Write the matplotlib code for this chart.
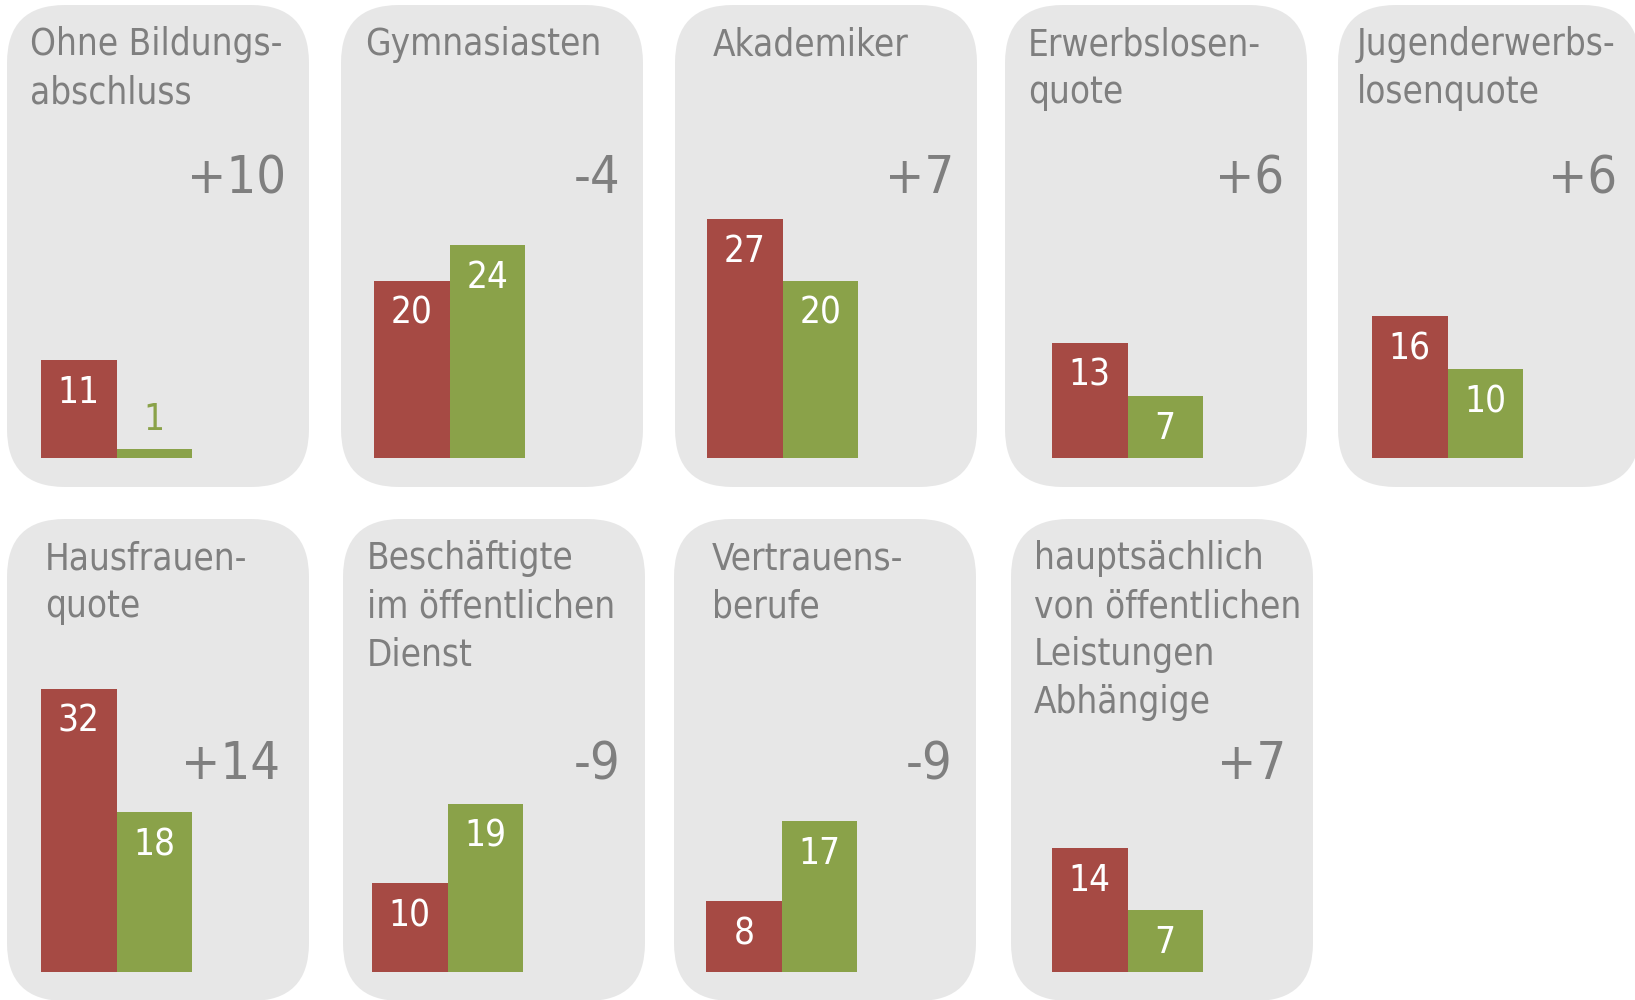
import matplotlib
matplotlib.use("Agg")
import matplotlib.pyplot as plt
from matplotlib.patches import FancyBboxPatch
from matplotlib import font_manager

# ---- data ----
titles = [
    ["Ohne Bildungs-", "abschluss"],
    ["Gymnasiasten"],
    ["Akademiker"],
    ["Erwerbslosen-", "quote"],
    ["Jugenderwerbs-", "losenquote"],
    ["Hausfrauen-", "quote"],
    ["Beschäftigte", "im öffentlichen", "Dienst"],
    ["Vertrauens-", "berufe"],
    ["hauptsächlich", "von öffentlichen", "Leistungen", "Abhängige"],
]
red_vals = [11, 20, 27, 13, 16, 32, 10, 8, 14]
green_vals = [1, 24, 20, 7, 10, 18, 19, 17, 7]

# ---- layout / style ----
W, H = 1635, 1000
panel_x = [7, 341, 675, 1005, 1338, 7, 343, 674, 1011]
panel_y = [5, 5, 5, 5, 5, 519, 519, 519, 519]
panel_w, panel_h = 302, 482
title_dx = [23, 24, 38, 23, 19, 38, 24, 38, 23]
bar_dx = [34, 33, 32, 47, 34, 34, 29, 32, 41]
diff_rx = [23, 23, 23, 23, 23, 29, 24, 23, 27]
bar_px = 75.5
px_per_unit = 8.85
base_from_top = 452.7
diff_from_top = [188, 188, 188, 188, 188, 260, 260, 260, 260]

RED = "#A64A44"
GREEN = "#8AA249"
PANEL = "#E7E7E7"
GRAY = "#7F7F7F"

names = {(f.name, f.stretch) for f in font_manager.fontManager.ttflist}
has_cond = any(n == "DejaVu Sans" and s in ("condensed", "semi-condensed") for n, s in names)
stretch = "condensed" if has_cond else "normal"
k = 1.0 if has_cond else 0.9
plt.rcParams["font.family"] = ["DejaVu Sans"]

fig = plt.figure(figsize=(W / 100, H / 100), dpi=100)
bg = fig.add_axes([0, 0, 1, 1])
bg.set_xlim(0, W)
bg.set_ylim(H, 0)
bg.axis("off")

for i in range(len(titles)):
    x0, y0 = panel_x[i], panel_y[i]
    bg.add_patch(FancyBboxPatch((x0, y0), panel_w, panel_h,
                                boxstyle="round,pad=0,rounding_size=58",
                                fc=PANEL, ec="none", zorder=0))
    for j, line in enumerate(titles[i]):
        bg.text(x0 + title_dx[i], y0 + 50 + 48 * j, line, fontsize=26.4 * k,
                fontstretch=stretch, color=GRAY, ha="left", va="baseline")
    diff = red_vals[i] - green_vals[i]
    bg.text(x0 + panel_w - diff_rx[i], y0 + diff_from_top[i], f"{diff:+d}",
            fontsize=37.5 * k, fontstretch=stretch, color=GRAY,
            ha="right", va="baseline")

    ax = fig.add_axes([x0 / W, 1 - (y0 + panel_h) / H, panel_w / W, panel_h / H])
    ax.set_facecolor("none")
    ax.axis("off")
    xl = -0.5 - bar_dx[i] / bar_px
    ax.set_xlim(xl, xl + panel_w / bar_px)
    ax.set_ylim(-(panel_h - base_from_top) / px_per_unit, base_from_top / px_per_unit)
    vals = [red_vals[i], green_vals[i]]
    cols = [RED, GREEN]
    ax.bar([0, 1], vals, width=1.0, color=cols, linewidth=0)
    for xpos, v, c in zip([0, 1], vals, cols):
        if v < 4:
            ax.annotate(str(v), (xpos, v), xytext=(0, 21), textcoords="offset points",
                        ha="center", va="center", color=c, fontsize=26.5 * k,
                        fontstretch=stretch)
        else:
            ax.annotate(str(v), (xpos, v), xytext=(0, -23.5), textcoords="offset points",
                        ha="center", va="center", color="white", fontsize=26.5 * k,
                        fontstretch=stretch)

fig.savefig("out.png", dpi=100)
